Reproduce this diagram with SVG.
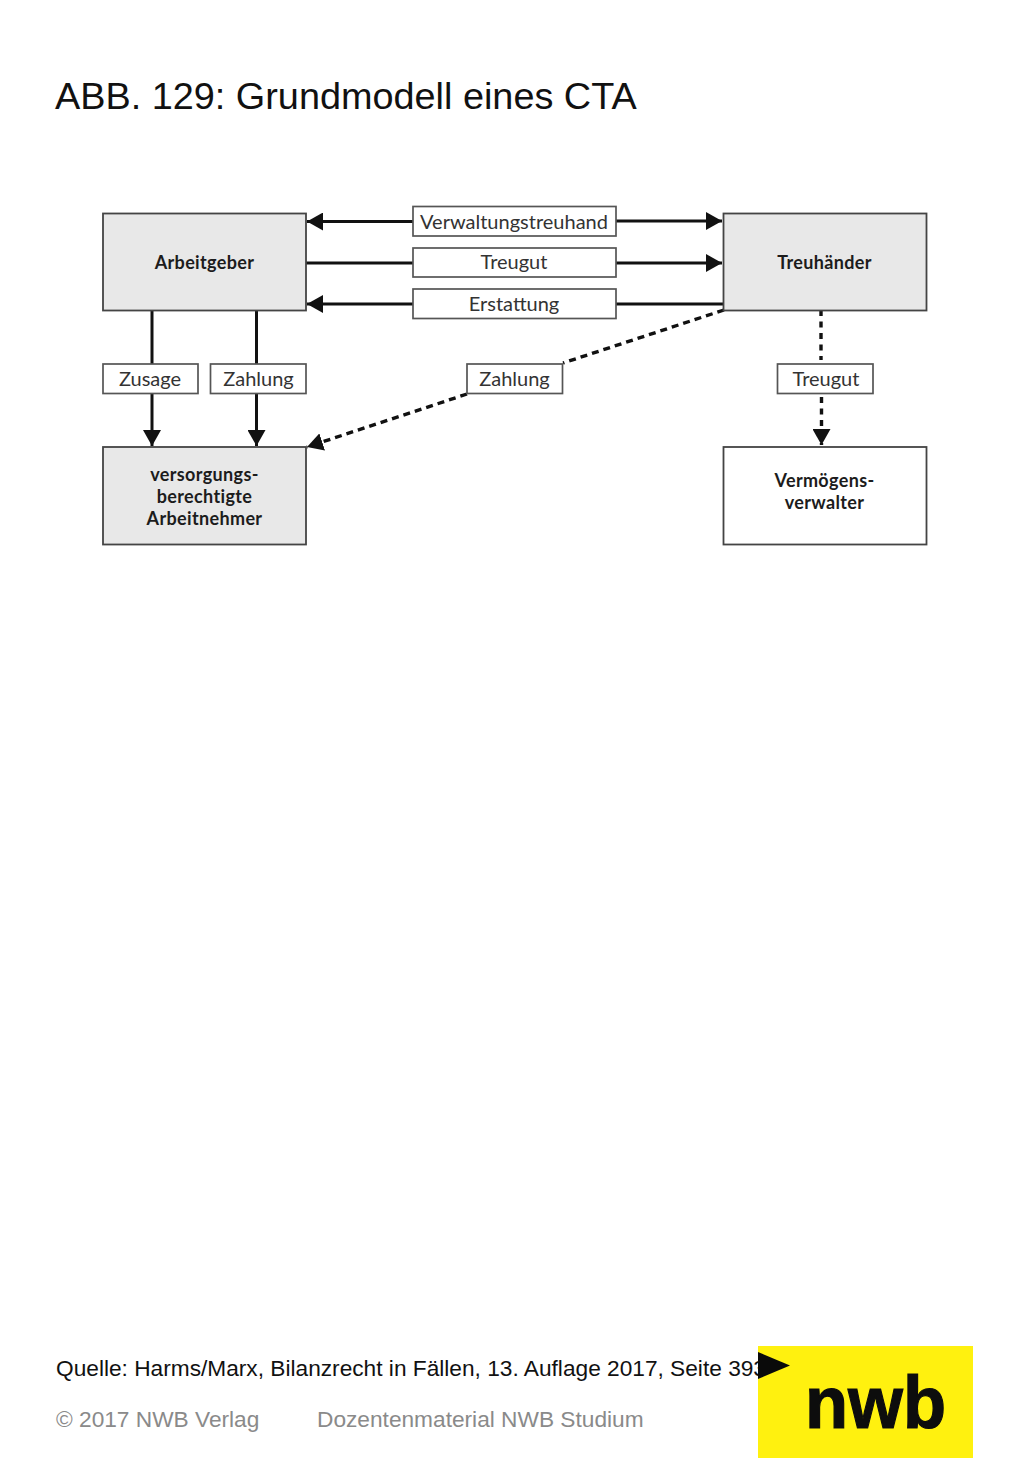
<svg xmlns="http://www.w3.org/2000/svg" width="1024" height="1479" viewBox="0 0 1024 1479">
<style>
.box{stroke:#444;stroke-width:1.8}
.grey{fill:#e8e8e8}
.white{fill:#fff}
.lbl{fill:#fff;stroke:#555;stroke-width:1.7}
.t{font-family:Lato,"Open Sans",sans-serif;font-size:20px;fill:#333;text-anchor:middle}
.b{font-family:Lato,"Open Sans",sans-serif;font-size:18px;font-weight:700;letter-spacing:.35px;fill:#1c1c1c;text-anchor:middle}
.c{fill:none;stroke:#111;stroke-width:3}
.d{stroke-dasharray:7 5;stroke-width:3.400}
.v{stroke-dasharray:6 5.500}
.s{font-family:"Liberation Sans",Arial,sans-serif}
</style>
<defs>
<marker id="ah" markerUnits="userSpaceOnUse" markerWidth="17" markerHeight="18" refX="16" refY="9" orient="auto"><path d="M0 0L16 9L0 18Z" fill="#111"/></marker>
</defs>
<text class="s" x="55" y="109" font-size="37.850" fill="#111">ABB. 129: Grundmodell eines CTA</text>
<g id="connectors">
<path class="c" marker-end="url(#ah)" d="M413 221.500H307"/>
<path class="c" marker-end="url(#ah)" d="M616 221H722"/>
<path class="c" d="M306 263H413"/>
<path class="c" marker-end="url(#ah)" d="M616 263H722"/>
<path class="c" marker-end="url(#ah)" d="M413 304H307"/>
<path class="c" d="M616 304H724"/>
<path class="c" d="M152 310V364"/>
<path class="c" marker-end="url(#ah)" d="M152 394V446"/>
<path class="c" d="M256.500 310V364"/>
<path class="c" marker-end="url(#ah)" d="M256.500 394V446"/>
<path class="c d" d="M724 310L563 363"/>
<path class="c d" marker-end="url(#ah)" d="M467 394L307 447"/>
<path class="c d v" d="M821 310V360"/>
<path class="c d v" marker-end="url(#ah)" d="M821.500 397V445"/>
</g>
<g id="arbeitgeber"><rect class="box grey" x="103" y="213.500" width="203" height="97"/><text class="b" x="204.500" y="268.500">Arbeitgeber</text></g>
<g id="treuhaender"><rect class="box grey" x="723.500" y="213.500" width="203" height="97"/><text class="b" x="824.500" y="268.500">Treuhänder</text></g>
<g id="arbeitnehmer"><rect class="box grey" x="103" y="447" width="203" height="97.500"/><text class="b" x="204.500" y="481">versorgungs-</text><text class="b" x="204.500" y="503">berechtigte</text><text class="b" x="204.500" y="525">Arbeitnehmer</text></g>
<g id="vermoegensverwalter"><rect class="box white" x="723.500" y="447" width="203" height="97.500"/><text class="b" x="824.500" y="487">Vermögens-</text><text class="b" x="824.500" y="509">verwalter</text></g>
<g id="label-verwaltungstreuhand"><rect class="lbl" x="413" y="206.500" width="203" height="29.500"/><text class="t" x="514" y="228.500">Verwaltungstreuhand</text></g>
<g id="label-treugut-1"><rect class="lbl" x="413" y="248" width="203" height="29"/><text class="t" x="514" y="269">Treugut</text></g>
<g id="label-erstattung"><rect class="lbl" x="413" y="289" width="203" height="29.500"/><text class="t" x="514" y="310.500">Erstattung</text></g>
<g id="label-zusage"><rect class="lbl" x="103" y="364" width="95" height="29.500"/><text class="t" x="150" y="385.500">Zusage</text></g>
<g id="label-zahlung-1"><rect class="lbl" x="210.500" y="364" width="95.500" height="29.500"/><text class="t" x="258.500" y="385.500">Zahlung</text></g>
<g id="label-zahlung-2"><rect class="lbl" x="467" y="364" width="95.500" height="29.500"/><text class="t" x="514.500" y="385.500">Zahlung</text></g>
<g id="label-treugut-2"><rect class="lbl" x="777.500" y="364" width="95.500" height="29.500"/><text class="t" x="826" y="385.500">Treugut</text></g>
<text class="s" x="56" y="1376" font-size="22.700" fill="#111">Quelle: Harms/Marx, Bilanzrecht in Fällen, 13. Auflage 2017, Seite 393</text>
<text class="s" x="56" y="1427" font-size="22.700" fill="#8a8a8a">© 2017 NWB Verlag</text>
<text class="s" x="317" y="1427" font-size="22.700" fill="#8a8a8a">Dozentenmaterial NWB Studium</text>
<g id="logo">
<rect x="758" y="1346" width="215" height="112" fill="#fff10f"/>
<path d="M758 1352L790 1365.500L758 1379Z" fill="#0a0a0a"/>
<text x="805" y="1428" font-family="Liberation Sans,Arial,sans-serif" font-size="75" font-weight="700" fill="#0d0d0d" stroke="#0d0d0d" stroke-width="1.200" textLength="141" lengthAdjust="spacingAndGlyphs">nwb</text>
</g>
</svg>
